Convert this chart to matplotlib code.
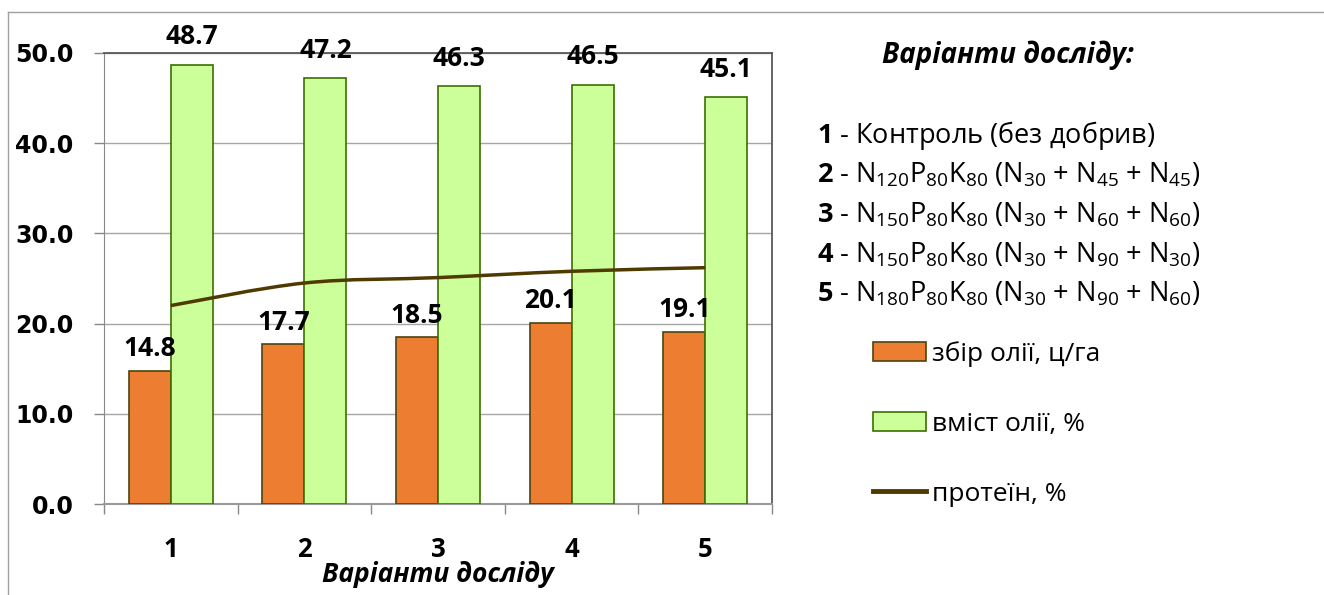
import matplotlib
matplotlib.use("Agg")
import matplotlib.pyplot as plt
from matplotlib.path import Path
from matplotlib.patches import PathPatch, Patch
from matplotlib.lines import Line2D
import numpy as np

# Дані
variants = ["1", "2", "3", "4", "5"]
oil_yield = [14.8, 17.7, 18.5, 20.1, 19.1]      # збір олії, ц/га
oil_content = [48.7, 47.2, 46.3, 46.5, 45.1]    # вміст олії, %
protein = [22.0, 24.5, 25.1, 25.8, 26.2]        # протеїн, %

legend_labels = ["збір олії, ц/га", "вміст олії, %", "протеїн, %"]
variant_notes = [
    r"$\mathbf{1}$ - Контроль (без добрив)",
    r"$\mathbf{2}$ - $\mathrm{N}_{120}\mathrm{P}_{80}\mathrm{K}_{80}$ ($\mathrm{N}_{30}$ + $\mathrm{N}_{45}$ + $\mathrm{N}_{45}$)",
    r"$\mathbf{3}$ - $\mathrm{N}_{150}\mathrm{P}_{80}\mathrm{K}_{80}$ ($\mathrm{N}_{30}$ + $\mathrm{N}_{60}$ + $\mathrm{N}_{60}$)",
    r"$\mathbf{4}$ - $\mathrm{N}_{150}\mathrm{P}_{80}\mathrm{K}_{80}$ ($\mathrm{N}_{30}$ + $\mathrm{N}_{90}$ + $\mathrm{N}_{30}$)",
    r"$\mathbf{5}$ - $\mathrm{N}_{180}\mathrm{P}_{80}\mathrm{K}_{80}$ ($\mathrm{N}_{30}$ + $\mathrm{N}_{90}$ + $\mathrm{N}_{60}$)",
]

plt.rcParams["font.family"] = ["Open Sans", "DejaVu Sans"]
plt.rcParams["mathtext.fontset"] = "custom"
plt.rcParams["mathtext.rm"] = "Open Sans"
plt.rcParams["mathtext.bf"] = "Open Sans:bold"
plt.rcParams["mathtext.it"] = "Open Sans:italic"

W, H = 1324, 595
fig = plt.figure(figsize=(W / 100, H / 100), dpi=100)
ax = fig.add_axes([104 / W, 1 - 504 / H, (772 - 104) / W, (504 - 53) / H])

orange = "#ED7D31"
green = "#CCFF99"
brown = "#4F3A00"

x = np.arange(len(variants))
w = 0.314
ax.bar(x - w / 2, oil_yield, w, color=orange, edgecolor="#4d4410", linewidth=1.2, zorder=3)
ax.bar(x + w / 2, oil_content, w, color=green, edgecolor="#3c6e00", linewidth=1.2, zorder=3)

# згладжена лінія (криві Безьє через точки)
pts = np.column_stack([x, protein]).astype(float)
verts = [tuple(pts[0])]
codes = [Path.MOVETO]
for i in range(len(pts) - 1):
    p0 = pts[i - 1] if i > 0 else pts[i]
    p1 = pts[i]
    p2 = pts[i + 1]
    p3 = pts[i + 2] if i + 2 < len(pts) else pts[i + 1]
    c1 = p1 + (p2 - p0) / 6
    c2 = p2 - (p3 - p1) / 6
    verts += [tuple(c1), tuple(c2), tuple(p2)]
    codes += [Path.CURVE4] * 3
ax.add_patch(PathPatch(Path(verts, codes), facecolor="none", edgecolor=brown,
                       linewidth=2.5, zorder=4, capstyle="butt"))

for xi, v in zip(x, oil_yield):
    ax.annotate(f"{v:.1f}", (xi - w / 2, v), xytext=(0, 6), textcoords="offset points",
                ha="center", va="bottom", fontsize=19, fontweight="bold")
for xi, v in zip(x, oil_content):
    ax.annotate(f"{v:.1f}", (xi + w / 2, v), xytext=(0, 10.5), textcoords="offset points",
                ha="center", va="bottom", fontsize=19, fontweight="bold", annotation_clip=False)

ax.set_xlim(-0.5, len(variants) - 0.5)
ax.set_ylim(0, 50)
ax.set_yticks(np.arange(0, 51, 10))
ax.set_yticklabels([f"{t:.1f}" for t in np.arange(0, 51, 10)],
                   fontfamily="DejaVu Sans", fontweight="bold", fontsize=17)
ax.set_xticks(x)
ax.set_xticklabels(variants, fontsize=18.5, fontweight="bold")
ax.set_xticks(np.arange(-0.5, len(variants)), minor=True)
ax.tick_params(axis="x", which="major", length=0, pad=23)
ax.tick_params(axis="x", which="minor", length=7, color="#888888", width=1)
ax.tick_params(axis="y", length=7, color="#888888", width=1, pad=15)
ax.grid(axis="y", color="#a6a6a6", linewidth=1, zorder=0)
ax.set_axisbelow(True)
for side in ["top", "right"]:
    ax.spines[side].set_color("#595959")
    ax.spines[side].set_linewidth(1.3)
ax.spines["left"].set_color("#888888")
ax.spines["bottom"].set_color("#999999")
ax.spines["bottom"].set_linewidth(1.5)

fig.text(438 / W, 1 - 575 / H, "Варіанти досліду", ha="center", va="center",
         fontsize=19, fontweight="bold", fontstyle="italic")

fig.text(1008 / W, 1 - 63 / H, "Варіанти досліду:", ha="center", va="baseline",
         fontsize=20, fontweight="bold", fontstyle="italic")
for i, note in enumerate(variant_notes):
    fig.text(817 / W, 1 - (143 + 39.7 * i) / H, note, ha="left", va="baseline", fontsize=19.5)

handles = [Patch(facecolor=orange, edgecolor="#4d4410", linewidth=1.2),
           Patch(facecolor=green, edgecolor="#3c6e00", linewidth=1.2),
           Line2D([], [], color=brown, linewidth=3.5)]
fig.legend(handles, legend_labels, loc="upper left", bbox_to_anchor=(873 / W, 1 - 341 / H),
           bbox_transform=fig.transFigure, frameon=False, fontsize=19, borderpad=0,
           borderaxespad=0, handlelength=2.0, handletextpad=0.25, labelspacing=1.7)

# рамка діаграми
fig.add_artist(Line2D([8 / W, 1], [1 - 12 / H, 1 - 12 / H], transform=fig.transFigure,
                      color="#a0a0a0", linewidth=1))
fig.add_artist(Line2D([8 / W, 8 / W], [0, 1 - 12 / H], transform=fig.transFigure,
                      color="#a0a0a0", linewidth=1))

fig.savefig("out.png", dpi=100)
